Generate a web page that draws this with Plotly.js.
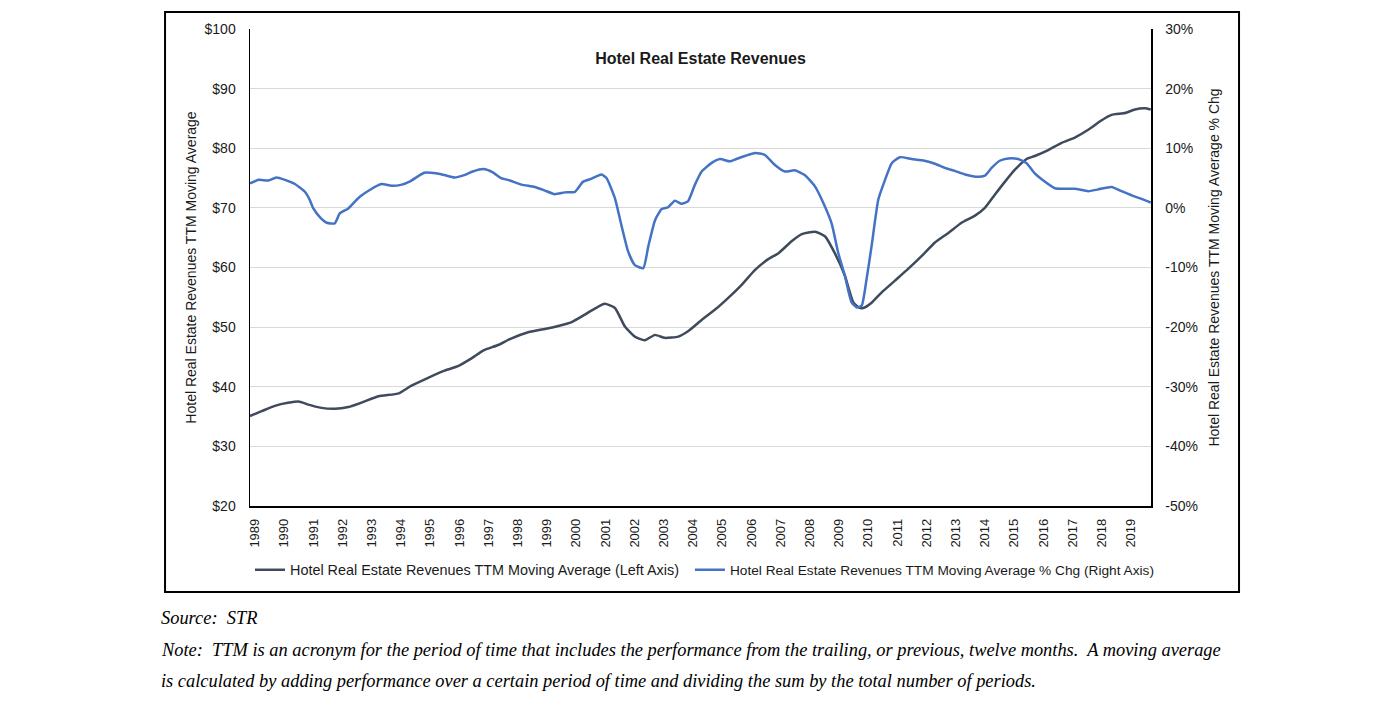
<!DOCTYPE html>
<html>
<head>
<meta charset="utf-8">
<script src="https://cdn.plot.ly/plotly-3.0.1.min.js"></script>
<style>
  html, body { margin: 0; padding: 0; background: #ffffff; }
  #chart { width: 1395px; height: 717px; }
</style>
</head>
<body>
<div id="chart"></div>
<script>
// ---- Data ----
const revYears = [1989.0, 1989.4, 1989.85, 1990.3, 1990.7, 1991.0, 1991.4, 1991.9, 1992.37, 1992.8,
  1993.4, 1994.1, 1994.5, 1995.1, 1995.66, 1996.1, 1996.6, 1997.0, 1997.5, 1997.9,
  1998.5, 1999.1, 1999.56, 2000.0, 2000.47, 2000.81, 2001.15, 2001.5, 2001.84, 2002.18,
  2002.52, 2002.87, 2003.2, 2003.67, 2004.0, 2004.47, 2004.92, 2005.4, 2005.84, 2006.3,
  2006.75, 2007.1, 2007.55, 2007.9, 2008.35, 2008.7, 2009.03, 2009.37, 2009.66, 2009.85,
  2010.0, 2010.29, 2010.63, 2011.09, 2011.55, 2012.0, 2012.46, 2012.92, 2013.37, 2013.83,
  2014.17, 2014.51, 2014.86, 2015.2, 2015.6, 2015.88, 2016.34, 2016.8, 2017.25, 2017.71,
  2018.17, 2018.51, 2018.97, 2019.31, 2019.65, 2019.85];
const revenue = [35.1, 35.9, 36.8, 37.3, 37.5, 37.0, 36.5, 36.3, 36.6, 37.3,
  38.4, 38.9, 40.1, 41.5, 42.7, 43.4, 44.8, 46.1, 47.0, 48.0,
  49.1, 49.7, 50.2, 50.8, 52.1, 53.1, 53.9, 53.2, 50.1, 48.4,
  47.8, 48.7, 48.2, 48.4, 49.3, 51.2, 52.9, 55.0, 57.1, 59.6,
  61.4, 62.4, 64.4, 65.6, 66.0, 65.2, 62.4, 58.7, 54.2, 53.3,
  53.2, 54.1, 55.8, 57.8, 59.8, 61.9, 64.2, 65.8, 67.5, 68.7,
  70.0, 72.2, 74.4, 76.4, 78.2, 78.7, 79.7, 80.9, 81.8, 83.1,
  84.7, 85.6, 85.9, 86.5, 86.7, 86.5];

const chgYears = [1989.0, 1989.3, 1989.63, 1989.9, 1990.2, 1990.54, 1990.88, 1991.05, 1991.17, 1991.4,
  1991.63, 1991.9, 1992.08, 1992.37, 1992.6, 1992.77, 1993.1, 1993.5, 1993.85, 1994.2,
  1994.5, 1994.97, 1995.37, 1995.66, 1996.0, 1996.34, 1996.63, 1997.0, 1997.3, 1997.6,
  1997.9, 1998.3, 1998.75, 1999.1, 1999.44, 1999.78, 2000.13, 2000.41, 2000.7, 2001.04,
  2001.21, 2001.5, 2001.73, 2001.95, 2002.18, 2002.47, 2002.64, 2002.87, 2003.1, 2003.32,
  2003.55, 2003.78, 2004.0, 2004.24, 2004.47, 2004.8, 2005.1, 2005.43, 2005.66, 2005.95,
  2006.3, 2006.63, 2006.98, 2007.32, 2007.66, 2008.0, 2008.35, 2008.63, 2008.92, 2009.15,
  2009.37, 2009.6, 2009.78, 2009.95, 2010.12, 2010.29, 2010.52, 2010.75, 2010.98, 2011.26,
  2011.66, 2012.1, 2012.46, 2012.8, 2013.14, 2013.49, 2013.94, 2014.17, 2014.4, 2014.68,
  2014.97, 2015.31, 2015.6, 2015.88, 2016.23, 2016.57, 2016.91, 2017.25, 2017.71, 2018.05,
  2018.51, 2018.85, 2019.2, 2019.54, 2019.85];
const pctChg = [4.1, 4.7, 4.6, 5.1, 4.7, 4.0, 2.7, 1.3, -0.1, -1.6,
  -2.5, -2.6, -0.9, -0.1, 1.1, 1.9, 3.0, 4.0, 3.7, 3.9,
  4.5, 5.9, 5.8, 5.5, 5.1, 5.5, 6.1, 6.5, 6.0, 5.0,
  4.6, 3.9, 3.5, 2.9, 2.3, 2.6, 2.7, 4.4, 4.9, 5.6,
  5.0, 1.6, -3.1, -7.3, -9.6, -10.1, -6.5, -2.1, -0.2, 0.1,
  1.2, 0.7, 1.1, 3.9, 6.1, 7.5, 8.2, 7.8, 8.2, 8.7,
  9.2, 8.9, 7.2, 6.1, 6.3, 5.5, 3.6, 0.9, -2.6, -7.6,
  -11.3, -15.8, -16.7, -16.4, -11.9, -6.4, 1.4, 4.7, 7.5, 8.5,
  8.2, 7.9, 7.4, 6.7, 6.2, 5.6, 5.2, 5.4, 6.7, 7.9,
  8.3, 8.2, 7.5, 5.8, 4.4, 3.3, 3.2, 3.2, 2.8, 3.1,
  3.5, 2.8, 2.1, 1.5, 0.9];

const xTickVals = [1989,1990,1991,1992,1993,1994,1995,1996,1997,1998,1999,2000,2001,2002,2003,
  2004,2005,2006,2007,2008,2009,2010,2011,2012,2013,2014,2015,2016,2017,2018,2019];
const xTickText = xTickVals.map(String);
const leftTickVals = [20,30,40,50,60,70,80,90,100];
const leftTickText = ['$20','$30','$40','$50','$60','$70','$80','$90','$100'];
const rightTickVals = [-50,-40,-30,-20,-10,0,10,20,30];
const rightTickText = ['-50%','-40%','-30%','-20%','-10%','0%','10%','20%','30%'];

const seriesNames = [
  'Hotel Real Estate Revenues TTM Moving Average (Left Axis)',
  'Hotel Real Estate Revenues TTM Moving Average % Chg (Right Axis)'
];

const FONT = 'Liberation Sans, Arial, sans-serif';
const SERIF = 'Liberation Serif, Times New Roman, serif';
const TXT = '#1a1a1a';

const traces = [
  {
    x: revYears, y: revenue, name: seriesNames[0], type: 'scatter', mode: 'lines',
    line: { color: '#3f4a5c', width: 2.5, shape: 'spline', smoothing: 0.5 }, yaxis: 'y',
    legend: 'legend'
  },
  {
    x: chgYears, y: pctChg, name: seriesNames[1], type: 'scatter', mode: 'lines',
    line: { color: '#4472c4', width: 2.5, shape: 'spline', smoothing: 0.5 }, yaxis: 'y2',
    legend: 'legend2'
  }
];

const legendCommon = {
  orientation: 'h', xanchor: 'left', y: -0.134, yanchor: 'middle',
  itemwidth: 30, bgcolor: 'rgba(0,0,0,0)'
};

const layout = {
  width: 1395, height: 717,
  margin: { l: 250, r: 244, t: 29, b: 211, pad: 0 },
  paper_bgcolor: '#ffffff', plot_bgcolor: '#ffffff',
  font: { family: FONT, size: 14, color: TXT },
  title: {
    text: '<b>Hotel Real Estate Revenues</b>',
    font: { family: FONT, size: 16, color: TXT },
    x: 0.5, xref: 'paper', xanchor: 'center',
    y: 1 - 58 / 717, yref: 'container', yanchor: 'middle'
  },
  xaxis: {
    range: [1989, 2019.86],
    tickmode: 'array', tickvals: xTickVals, ticktext: xTickText,
    tickangle: -90, tickfont: { family: FONT, size: 13, color: TXT },
    ticklabelshift: 5, ticklabelstandoff: 6,
    showgrid: false, zeroline: false,
    showline: true, linecolor: '#000000', linewidth: 1.5,
    ticks: ''
  },
  yaxis: {
    range: [20, 100],
    tickmode: 'array', tickvals: leftTickVals, ticktext: leftTickText,
    tickfont: { family: FONT, size: 14, color: TXT },
    ticklabelstandoff: 10,
    showgrid: true, gridcolor: '#d9d9d9', gridwidth: 1,
    zeroline: false,
    showline: true, linecolor: '#000000', linewidth: 1.5,
    ticks: '',
    title: {
      text: 'Hotel Real Estate Revenues TTM Moving Average',
      font: { family: FONT, size: 14, color: TXT },
      standoff: 4
    }
  },
  yaxis2: {
    range: [-50, 30], overlaying: 'y', side: 'right',
    tickmode: 'array', tickvals: rightTickVals, ticktext: rightTickText,
    tickfont: { family: FONT, size: 14, color: TXT },
    ticklabelstandoff: 10,
    showgrid: false, zeroline: false,
    showline: true, linecolor: '#000000', linewidth: 1.5,
    ticks: '',
    title: {
      text: 'Hotel Real Estate Revenues TTM Moving Average % Chg',
      font: { family: FONT, size: 14, color: TXT },
      standoff: 12
    }
  },
  showlegend: true,
  legend: Object.assign({}, legendCommon, { x: 0.0, font: { family: FONT, size: 14.4, color: TXT } }),
  legend2: Object.assign({}, legendCommon, { x: 0.4883, font: { family: FONT, size: 13.7, color: TXT } }),
  shapes: [
    {
      type: 'rect', xref: 'paper', yref: 'paper',
      x0: -0.0943, x1: 1.0977, y0: -0.1803, y1: 1.0356,
      line: { color: '#000000', width: 2 }, fillcolor: 'rgba(0,0,0,0)', layer: 'above'
    }
  ],
  annotations: [
    {
      text: '<i>Source:  STR</i>', xref: 'paper', yref: 'paper',
      x: -0.1010, y: -0.2348, xanchor: 'left', yanchor: 'middle', showarrow: false,
      font: { family: SERIF, size: 18.4, color: '#000000' }
    },
    {
      text: '<i>Note:  TTM is an acronym for the period of time that includes the performance from the trailing, or previous, twelve months.  A moving average</i>',
      xref: 'paper', yref: 'paper',
      x: -0.1010, y: -0.3019, xanchor: 'left', yanchor: 'middle', showarrow: false,
      font: { family: SERIF, size: 18.4, color: '#000000' }
    },
    {
      text: '<i>is calculated by adding performance over a certain period of time and dividing the sum by the total number of periods.</i>',
      xref: 'paper', yref: 'paper',
      x: -0.1010, y: -0.3669, xanchor: 'left', yanchor: 'middle', showarrow: false,
      font: { family: SERIF, size: 18.4, color: '#000000' }
    }
  ]
};

Plotly.newPlot('chart', traces, layout, { displayModeBar: false, staticPlot: true });
</script>
</body>
</html>
